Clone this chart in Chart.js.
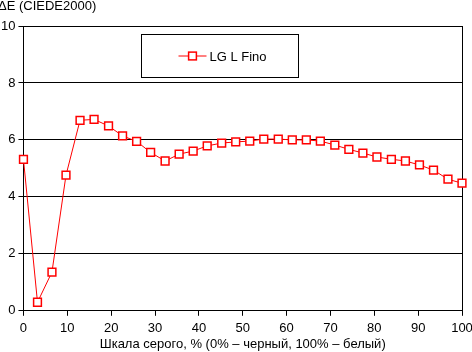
<!DOCTYPE html>
<html>
<head>
<meta charset="utf-8">
<script src="https://cdn.jsdelivr.net/npm/chart.js@4.4.0/dist/chart.umd.min.js"></script>
<style>
  html, body { margin: 0; padding: 0; background: #fff; }
  #myChart { display: block; }
</style>
</head>
<body>
<canvas id="myChart" width="472" height="352"></canvas>
<script>
// grey level, % (0% = black, 100% = white)
var greyLevels = [0, 3.2, 6.5, 9.7, 12.9, 16.1, 19.4, 22.6, 25.8, 29, 32.3, 35.5, 38.7, 41.9, 45.2, 48.4,
  51.6, 54.8, 58.1, 61.3, 64.5, 67.7, 71, 74.2, 77.4, 80.6, 83.9, 87.1, 90.3, 93.5, 96.8, 100];
// delta E (CIEDE2000)
var deltaE = [5.32, 0.3, 1.36, 4.76, 6.69, 6.72, 6.49, 6.14, 5.95, 5.56, 5.26, 5.5, 5.61, 5.79, 5.89, 5.93,
  5.96, 6.03, 6.03, 6.0, 6.0, 5.96, 5.82, 5.67, 5.54, 5.4, 5.32, 5.26, 5.12, 4.94, 4.62, 4.48];
var seriesName = 'LG L Fino';
var yTitle = 'ΔE (CIEDE2000)';
var xTitle = 'Шкала серого, % (0% – черный, 100% – белый)';

var fontName = '"Liberation Sans", Arial, sans-serif';

var puntos = greyLevels.map(function (x, i) {
  return { x: x, y: deltaE[i] };
});

// legend box inside the plot, Excel style
var legendBox = {
  id: 'legendBox',
  afterDraw: function (chart) {
    var ctx = chart.ctx;
    var area = chart.chartArea;
    var ds = chart.data.datasets[0];
    var left = Math.round(area.left) + 118.5;
    var top = Math.round(area.top) + 8.5;
    var w = 157, h = 43;
    var cy = top + h / 2;
    ctx.save();
    ctx.fillStyle = '#fff';
    ctx.fillRect(left, top, w, h);
    ctx.strokeStyle = '#000';
    ctx.lineWidth = 1;
    ctx.strokeRect(left, top, w, h);

    ctx.strokeStyle = ds.borderColor;
    ctx.beginPath();
    ctx.moveTo(left + 37, cy);
    ctx.lineTo(left + 65, cy);
    ctx.stroke();
    ctx.fillStyle = ds.pointBackgroundColor;
    ctx.lineWidth = ds.pointBorderWidth;
    var s = ds.pointRadius * Math.SQRT1_2;
    ctx.fillRect(left + 51 - s, cy - s, 2 * s, 2 * s);
    ctx.strokeRect(left + 51 - s, cy - s, 2 * s, 2 * s);

    ctx.fillStyle = '#000';
    ctx.font = '13px ' + fontName;
    ctx.textBaseline = 'middle';
    ctx.textAlign = 'left';
    ctx.fillText(ds.label, left + 68, cy + 1);
    ctx.restore();
  }
};

var ctx = document.getElementById('myChart').getContext('2d');

var config = {
  type: 'line',
  data: {
    datasets: [{
      label: seriesName,
      data: puntos,
      borderColor: '#ff0000',
      borderWidth: 1,
      tension: 0,
      pointStyle: 'rect',
      pointRadius: 5.5,
      pointBorderWidth: 1.5,
      pointBorderColor: '#ff0000',
      pointBackgroundColor: '#ffffff',
      clip: false
    }]
  },
  options: {
    responsive: false,
    animation: false,
    layout: { padding: { left: -2, right: 10, top: 0, bottom: 0 } },
    plugins: {
      legend: { display: false },
      tooltip: { enabled: false },
      title: {
        display: true,
        text: yTitle,
        align: 'start',
        color: '#000',
        font: { family: fontName, size: 13, weight: 'normal', lineHeight: 1.0 },
        padding: { top: 0, bottom: 13 }
      }
    },
    scales: {
      x: {
        type: 'linear',
        min: 0,
        max: 100,
        afterFit: function (scale) {
          // let the "100" label run past the edge, as in the original
          scale.paddingRight = 0;
        },
        ticks: {
          stepSize: 10,
          color: '#000',
          padding: 5,
          maxRotation: 0,
          font: { family: fontName, size: 13 }
        },
        grid: {
          drawOnChartArea: true,
          color: function (c) {
            return c.tick && c.tick.value === 100 ? '#000' : 'rgba(0,0,0,0)';
          },
          tickColor: '#000',
          tickLength: 5,
          lineWidth: 1
        },
        border: { display: true, color: '#000', width: 1 },
        title: {
          display: true,
          text: xTitle,
          color: '#000',
          font: { family: fontName, size: 13 },
          padding: { top: -5, bottom: 0 }
        }
      },
      y: {
        min: 0,
        max: 10,
        ticks: {
          stepSize: 2,
          color: '#000',
          padding: 3,
          font: { family: fontName, size: 13 }
        },
        grid: {
          color: '#000',
          tickColor: '#000',
          tickLength: 5,
          lineWidth: 1
        },
        border: { display: true, color: '#000', width: 1 }
      }
    }
  },
  plugins: [legendBox]
};

var chart = new Chart(ctx, config);
</script>
</body>
</html>
